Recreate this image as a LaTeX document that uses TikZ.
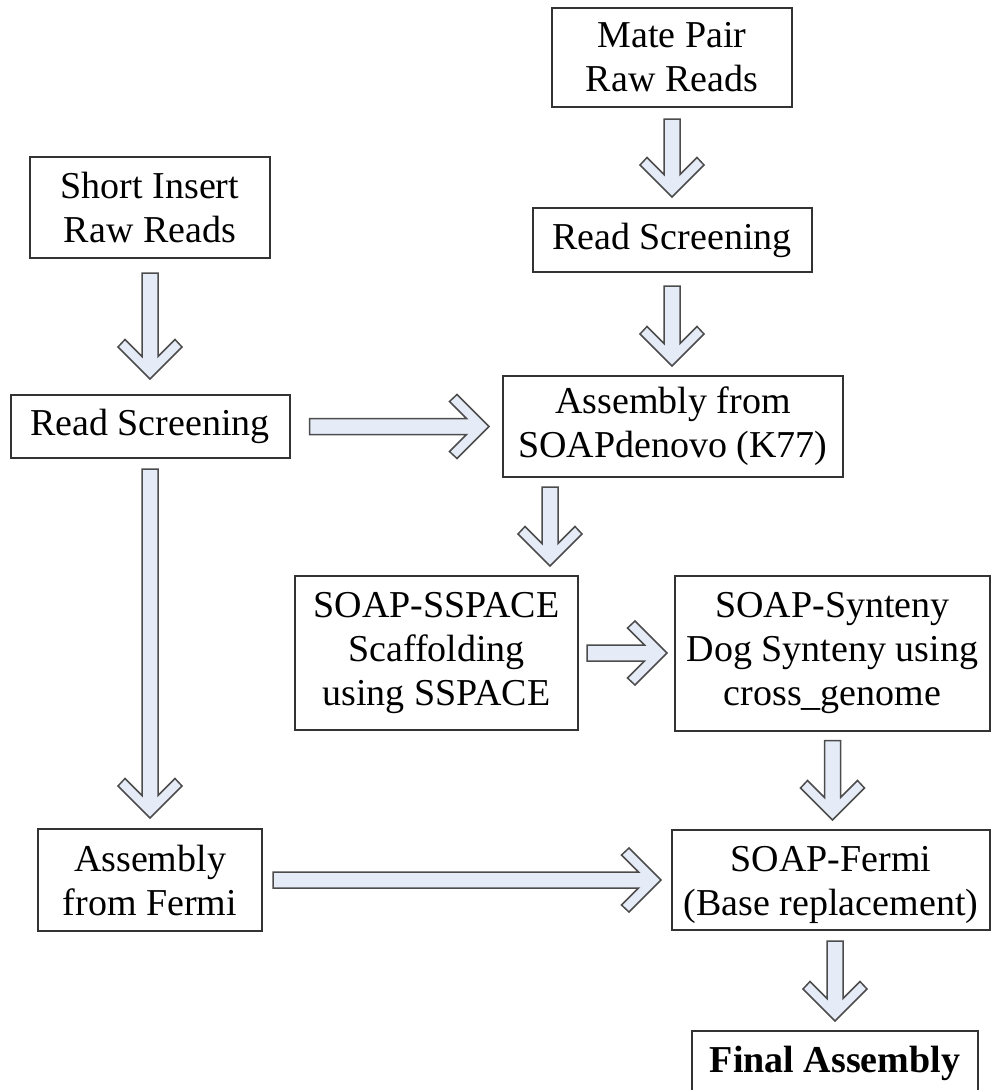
\documentclass[tikz,border=0pt]{standalone}
\usepackage{fontspec}
\setmainfont{Liberation Serif}
\usetikzlibrary{calc,positioning}
\definecolor{arrowfill}{RGB}{230,236,247}
\tikzset{
    block/.style = {draw=black!80, line width=2pt, rectangle, inner sep=0pt,
        font=\fontsize{38pt}{44pt}\selectfont, align=center},
    fatarrow/.style = {draw=black!70, fill=arrowfill, line width=1.5pt, line join=miter,
        to path={let \p1=(\tikztostart), \p2=(\tikztotarget),
            \n1={atan2(\y2-\y1,\x2-\x1)}, \n2={veclen(\x2-\x1,\y2-\y1)} in
            ([shift={(\p1)},rotate=\n1]0pt,8pt)
            -- ([shift={(\p1)},rotate=\n1]\n2-22.5pt,8pt)
            -- ([shift={(\p1)},rotate=\n1]\n2-39.5pt,25pt)
            -- ([shift={(\p1)},rotate=\n1]\n2-32pt,32pt)
            -- (\p2)
            -- ([shift={(\p1)},rotate=\n1]\n2-32pt,-32pt)
            -- ([shift={(\p1)},rotate=\n1]\n2-39.5pt,-25pt)
            -- ([shift={(\p1)},rotate=\n1]\n2-22.5pt,-8pt)
            -- ([shift={(\p1)},rotate=\n1]0pt,-8pt) -- cycle}}
}
\begin{document}
\begin{tikzpicture}[x=1pt,y=-1pt]
    \useasboundingbox (0,0) rectangle (992,1090);
    \clip (0,0) rectangle (992,1090);
    \node [block, minimum width=240pt, minimum height=99pt] at (672,57.5) (mate) {Mate Pair\\Raw Reads};
    \node [block, minimum width=279pt, minimum height=64pt] at (672,240) (screenmp) {Read Screening};
    \draw [fatarrow] ([yshift=-11pt]mate.south) to ([yshift=10pt]screenmp.north);
    \node [block, minimum width=240pt, minimum height=101pt] at (150,207.5) (short) {Short Insert\\Raw Reads};
    \node [block, minimum width=279pt, minimum height=63pt] at (150,426.5) (screensi) {Read Screening};
    \draw [fatarrow] ([yshift=-14pt]short.south) to ([yshift=15pt]screensi.north);
    \node [block, minimum width=340pt, minimum height=101pt] at (673,426.5) (denovo) {Assembly from\\SOAPdenovo (K77)};
    \draw [fatarrow] ([yshift=-13pt]screenmp.south) to ([yshift=9pt]screenmp.south |- denovo.north);
    \draw [fatarrow] ([xshift=19pt]screensi.east) to ([xshift=-13pt]denovo.west);
    \node [block, minimum width=283pt, minimum height=154pt] at (436.5,653) (sspace) {SOAP-SSPACE\\Scaffolding\\using SSPACE};
    \draw [fatarrow] ([xshift=-123pt,yshift=-9pt]denovo.south) to ([xshift=113.5pt,yshift=9pt]sspace.north);
    \node [block, minimum width=315pt, minimum height=155pt] at (832.5,653) (synteny) {SOAP-Synteny\\Dog Synteny using\\cross\_genome};
    \draw [fatarrow] ([xshift=8pt]sspace.east) to ([xshift=-7pt]sspace.east -| synteny.west);
    \node [block, minimum width=224pt, minimum height=102pt] at (150,880) (fermi) {Assembly\\from Fermi};
    \draw [fatarrow] ([yshift=-10pt]screensi.south) to ([yshift=10pt]fermi.north);
    \node [block, minimum width=318pt, minimum height=100pt] at (831,880) (soapfermi) {\raisebox{0pt}[\dimexpr\height+10pt\relax][\depth]{\begin{tabular}{@{}c@{}}SOAP-Fermi\\(Base replacement)\end{tabular}}};
    \draw [fatarrow] ([yshift=-9pt]synteny.south) to ([yshift=9pt]synteny.south |- soapfermi.north);
    \draw [fatarrow] ([xshift=10pt]fermi.east) to ([xshift=-10pt]fermi.east -| soapfermi.west);
    \node [block, minimum width=286pt, minimum height=64pt] at (835,1063) (final) {\textbf{Final Assembly}};
    \draw [fatarrow] ([yshift=-10pt]final.north |- soapfermi.south) to ([yshift=9pt]final.north);
\end{tikzpicture}
\end{document}
